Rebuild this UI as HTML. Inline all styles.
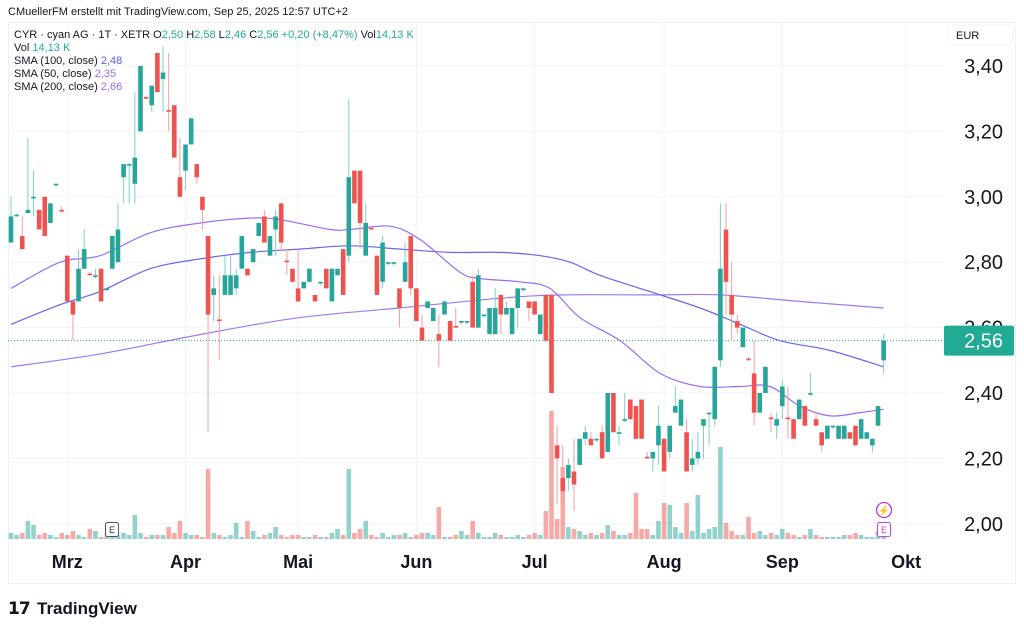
<!DOCTYPE html>
<html><head><meta charset="utf-8">
<style>
html,body{margin:0;padding:0;background:#fff;}
svg{display:block;font-family:"Liberation Sans",sans-serif;}
</style></head>
<body>
<svg id="chart" width="1024" height="631" viewBox="0 0 1024 631" xmlns="http://www.w3.org/2000/svg">
  <text x="8" y="15" font-size="11" fill="#131722">CMuellerFM erstellt mit TradingView.com, Sep 25, 2025 12:57 UTC+2</text>
  <rect x="8.5" y="22.5" width="1007" height="561" fill="none" stroke="#eef0f4"/>
  <g id="grid"></g>
  <g id="vol"></g>
  <g id="sma"></g>
  <g id="candles"></g>
  <g id="yaxis"></g>
  <g id="xaxis"></g>
  <rect x="948" y="25" width="65" height="20" rx="4" fill="#fff" stroke="#eef0f4"/>
  <text x="956" y="39" font-size="11" fill="#131722">EUR</text>
  <g font-size="11">
    <text x="14" y="38" fill="#131722">CYR · cyan AG · 1T · XETR  <tspan>O</tspan><tspan fill="#22ab94">2,50</tspan>  <tspan>H</tspan><tspan fill="#22ab94">2,58</tspan>  <tspan>L</tspan><tspan fill="#22ab94">2,46</tspan>  <tspan>C</tspan><tspan fill="#22ab94">2,56 +0,20 (+8,47%)</tspan>  Vol<tspan fill="#22ab94">14,13 K</tspan></text>
    <text x="14" y="51" fill="#131722">Vol <tspan fill="#22ab94">14,13 K</tspan></text>
    <text x="14" y="64" fill="#131722">SMA (100, close) <tspan fill="#5b5bf0">2,48</tspan></text>
    <text x="14" y="77" fill="#131722">SMA (50, close) <tspan fill="#9a6cf5">2,35</tspan></text>
    <text x="14" y="90" fill="#131722">SMA (200, close) <tspan fill="#9a6cf5">2,66</tspan></text>
  </g>
  <g>
    <rect x="105.5" y="522.5" width="13" height="14" rx="2" fill="#fff" stroke="#555"/>
    <text x="112" y="533" font-size="9" text-anchor="middle" fill="#333">E</text>
  </g>
  <g>
    <circle cx="884" cy="510" r="7.5" fill="#fff" stroke="#b43fd6" stroke-width="1.3"/>
    <text x="884" y="514" font-size="10" text-anchor="middle" fill="#b43fd6">⚡</text>
  </g>
  <g>
    <rect x="877.5" y="522.5" width="13" height="14" rx="2" fill="#fff" stroke="#d63fd6"/>
    <text x="884" y="533" font-size="9" text-anchor="middle" fill="#d63fd6">E</text>
  </g>
  <g>
    <text x="8" y="614" font-size="17" font-weight="bold" fill="#131722" letter-spacing="-1">𝟭𝟳</text>
    <text x="37" y="614" font-size="17" font-weight="bold" fill="#131722">TradingView</text>
  </g>
</svg>
<script>
const opens =[2.86,2.94,2.88,2.95,2.995,2.96,3.00,2.92,3.035,2.96,2.82,2.68,2.68,2.78,2.765,2.755,2.78,2.715,2.78,2.80,3.06,3.095,3.04,3.20,3.305,3.28,3.44,3.36,3.265,3.28,3.06,3.08,3.16,3.10,3.00,2.88,2.70,2.625,2.70,2.70,2.72,2.78,2.78,2.80,2.88,2.94,2.82,2.90,2.98,2.805,2.78,2.72,2.72,2.74,2.70,2.735,2.78,2.68,2.76,2.84,2.82,3.08,3.08,2.82,2.905,2.82,2.74,2.795,2.795,2.72,2.74,2.88,2.72,2.60,2.66,2.62,2.58,2.64,2.62,2.605,2.615,2.615,2.74,2.60,2.635,2.58,2.58,2.70,2.64,2.58,2.66,2.715,2.68,2.68,2.58,2.70,2.70,2.24,2.14,2.14,2.16,2.18,2.26,2.26,2.255,2.28,2.22,2.40,2.275,2.315,2.38,2.36,2.38,2.205,2.20,2.24,2.26,2.22,2.34,2.30,2.28,2.18,2.20,2.30,2.335,2.32,2.50,2.90,2.70,2.62,2.54,2.505,2.46,2.34,2.40,2.325,2.30,2.36,2.325,2.32,2.32,2.36,2.395,2.32,2.28,2.26,2.295,2.26,2.26,2.28,2.30,2.26,2.26,2.24,2.30,2.50];
const highs =[3.00,2.95,2.94,3.18,3.08,2.96,3.00,2.98,3.04,2.97,2.82,2.68,2.84,2.90,2.77,2.78,2.78,2.72,2.88,2.98,3.10,3.10,3.32,3.40,3.31,3.34,3.44,3.46,3.44,3.28,3.18,3.16,3.24,3.10,3.00,2.88,2.76,2.76,2.82,2.82,2.78,2.88,2.78,2.84,2.92,2.96,2.88,2.96,2.98,2.84,2.78,2.84,2.74,2.78,2.70,2.74,2.78,2.78,2.78,2.84,3.30,3.08,3.08,2.98,2.91,2.82,2.88,2.80,2.80,2.72,2.86,2.88,2.72,2.64,2.68,2.66,2.64,2.68,2.62,2.66,2.62,2.62,2.76,2.78,2.64,2.66,2.72,2.70,2.68,2.66,2.72,2.72,2.68,2.68,2.64,2.70,2.70,2.30,2.24,2.20,2.26,2.26,2.30,2.28,2.26,2.30,2.40,2.40,2.30,2.40,2.38,2.36,2.38,2.22,2.22,2.36,2.26,2.30,2.42,2.38,2.32,2.26,2.28,2.32,2.34,2.48,2.98,2.98,2.80,2.64,2.60,2.51,2.56,2.40,2.48,2.34,2.34,2.44,2.42,2.32,2.38,2.36,2.46,2.34,2.28,2.30,2.30,2.30,2.30,2.28,2.30,2.32,2.28,2.26,2.36,2.58];
const lows  =[2.86,2.94,2.84,2.95,2.94,2.90,2.88,2.92,3.03,2.95,2.68,2.56,2.68,2.78,2.76,2.75,2.68,2.71,2.78,2.80,2.98,2.98,2.98,3.20,3.30,3.26,3.32,3.26,3.20,3.12,3.00,3.02,3.16,3.04,2.90,2.28,2.62,2.50,2.70,2.70,2.70,2.78,2.76,2.80,2.88,2.86,2.82,2.82,2.84,2.76,2.74,2.68,2.72,2.74,2.68,2.73,2.72,2.68,2.76,2.70,2.80,2.98,2.84,2.82,2.90,2.70,2.72,2.79,2.79,2.60,2.74,2.70,2.62,2.56,2.66,2.62,2.48,2.64,2.56,2.60,2.61,2.61,2.60,2.60,2.63,2.58,2.58,2.58,2.64,2.58,2.60,2.71,2.62,2.64,2.58,2.56,2.40,2.06,2.06,2.10,2.04,2.18,2.24,2.24,2.25,2.20,2.22,2.28,2.24,2.31,2.32,2.26,2.26,2.20,2.16,2.18,2.16,2.20,2.34,2.30,2.16,2.16,2.18,2.20,2.24,2.30,2.48,2.64,2.56,2.58,2.54,2.50,2.30,2.34,2.40,2.28,2.26,2.32,2.26,2.26,2.32,2.30,2.39,2.30,2.22,2.26,2.29,2.26,2.26,2.26,2.24,2.26,2.26,2.22,2.30,2.46];
const closes=[2.94,2.945,2.84,2.96,3.00,2.90,2.88,2.98,3.04,2.955,2.68,2.64,2.78,2.84,2.76,2.76,2.68,2.72,2.88,2.90,3.10,3.10,3.12,3.40,3.30,3.34,3.32,3.38,3.26,3.12,3.00,3.16,3.24,3.06,2.96,2.64,2.72,2.62,2.76,2.76,2.76,2.88,2.76,2.84,2.92,2.86,2.88,2.94,2.86,2.80,2.74,2.68,2.74,2.78,2.68,2.74,2.72,2.78,2.78,2.70,3.06,2.98,2.92,2.92,2.90,2.70,2.86,2.80,2.80,2.66,2.80,2.72,2.62,2.56,2.68,2.66,2.56,2.68,2.56,2.60,2.62,2.62,2.60,2.76,2.64,2.66,2.66,2.64,2.66,2.66,2.72,2.72,2.66,2.64,2.64,2.56,2.40,2.20,2.10,2.18,2.12,2.26,2.28,2.24,2.26,2.20,2.40,2.28,2.28,2.32,2.32,2.26,2.26,2.20,2.22,2.30,2.16,2.30,2.36,2.38,2.16,2.20,2.22,2.32,2.34,2.48,2.78,2.74,2.64,2.60,2.60,2.50,2.34,2.40,2.48,2.32,2.32,2.42,2.32,2.26,2.38,2.30,2.40,2.30,2.24,2.30,2.30,2.30,2.30,2.26,2.24,2.32,2.28,2.26,2.36,2.56];
const volumes=[3,2,3,9,7,2,3,2,1,3,2,4,2,1,5,4,1,2,1,2,3,2,12,3,1,2,2,2,6,3,9,3,2,2,1,35,3,2,1,2,8,1,9,4,1,2,3,6,2,1,2,2,1,1,2,1,1,3,5,2,35,3,5,9,2,1,3,1,2,2,3,1,2,3,3,2,16,1,1,2,4,2,9,3,1,1,3,2,1,1,2,1,2,3,2,14,64,10,36,6,5,4,2,3,2,3,7,4,2,2,3,23,5,5,2,9,18,17,6,3,18,4,22,3,5,6,46,8,4,2,2,11,3,4,2,3,2,5,3,2,1,2,5,2,1,1,1,1,2,2,3,2,1,1,4,5];
const sma200Idx=[0,16,34,51,69,87,98,114,126,140,155];
const sma200Val=[2.48,2.52,2.58,2.63,2.66,2.69,2.70,2.70,2.70,2.68,2.66];
const sma100Idx=[0,8.7,15.8,24.7,33.6,42.5,51.3,60.2,69.1,78,86.9,94,99.3,104.6,113.5,122.4,129.5,136.6,145.5,155];
const sma100Val=[2.61,2.67,2.71,2.78,2.81,2.83,2.84,2.85,2.84,2.83,2.83,2.82,2.80,2.76,2.71,2.66,2.61,2.56,2.53,2.48];
const sma50Idx=[0,8.7,15.8,24.7,33.6,42.5,47.8,56.7,60.2,67.3,72.6,79.7,83.3,90.4,95.7,101.1,108.2,115.3,122.4,129.5,134.8,140.1,145.5,150.8,155];
const sma50Val=[2.72,2.80,2.82,2.89,2.92,2.935,2.93,2.90,2.90,2.91,2.87,2.77,2.75,2.74,2.72,2.63,2.56,2.46,2.42,2.42,2.42,2.36,2.33,2.34,2.35];
const priceTicks=[3.40,3.20,3.00,2.80,2.60,2.40,2.20,2.00];
const monthLabels=["Mrz","Apr","Mai","Jun","Jul","Aug","Sep","Okt"];
const monthIdx=[10,31,51,72,93,116,137,159];
const lastPrice=2.56;

const NS="http://www.w3.org/2000/svg";
const X0=11, DX=5.63;
const xOf=i=>X0+i*DX;
const yOf=p=>66+(3.40-p)*327;
const VBASE=539, VSCALE=2;
function mk(tag,attrs,parent){const e=document.createElementNS(NS,tag);for(const k in attrs)e.setAttribute(k,attrs[k]);parent.appendChild(e);return e;}
const grid=document.getElementById('grid'),vol=document.getElementById('vol'),sma=document.getElementById('sma'),cg=document.getElementById('candles'),ya=document.getElementById('yaxis'),xa=document.getElementById('xaxis');

priceTicks.forEach(p=>{
  const l=mk('line',{x1:8,x2:944,y1:yOf(p),y2:yOf(p),stroke:'#f0f3fa'},grid);
  
  
  const t=mk('text',{x:1003,y:yOf(p)+7,'font-size':20,'text-anchor':'end',fill:'#131722'},ya);
  t.textContent=p.toFixed(2).replace('.',',');
  
  
});
monthLabels.forEach((m,k)=>{
  const x=xOf(monthIdx[k]);
  if(x<940){const l=mk('line',{x1:x,x2:x,y1:22,y2:540,stroke:'#f0f3fa'},grid);
  
  }
  const t=mk('text',{x:x,y:568,'font-size':18,'font-weight':'bold','text-anchor':'middle',fill:'#131722'},xa);
  t.textContent=m;
  
  
});

volumes.forEach((v,i)=>{
  const up=closes[i]>=opens[i];
  const r=mk('rect',{x:xOf(i)-2.3,y:VBASE-v*VSCALE,width:4.6,height:v*VSCALE,fill:up?'rgba(38,166,154,0.5)':'rgba(239,83,80,0.5)'},vol);
  
  
});

function smaLine(idx,val,color,name){
  const P=idx.map((i,k)=>[xOf(i),yOf(val[k])]);
  let d='M'+P[0][0].toFixed(1)+','+P[0][1].toFixed(1);
  for(let k=0;k<P.length-1;k++){
    const p0=P[k-1]||P[k],p1=P[k],p2=P[k+1],p3=P[k+2]||P[k+1];
    const c1=[p1[0]+(p2[0]-p0[0])/6,p1[1]+(p2[1]-p0[1])/6];
    const c2=[p2[0]-(p3[0]-p1[0])/6,p2[1]-(p3[1]-p1[1])/6];
    d+=' C'+c1[0].toFixed(1)+','+c1[1].toFixed(1)+' '+c2[0].toFixed(1)+','+c2[1].toFixed(1)+' '+p2[0].toFixed(1)+','+p2[1].toFixed(1);
  }
  const pl=mk('path',{d:d,fill:'none',stroke:color,'stroke-width':1.2},sma);
  
  
}
smaLine(sma200Idx,sma200Val,'#9b7bf7','sma-200-line');
smaLine(sma100Idx,sma100Val,'#6666f2','sma-100-line');
smaLine(sma50Idx,sma50Val,'#9a6cf5','sma-50-line');

const pl=mk('line',{x1:8,x2:944,y1:yOf(lastPrice),y2:yOf(lastPrice),stroke:'#22ab94','stroke-dasharray':'1 2','stroke-width':1},cg);



opens.forEach((o,i)=>{
  const c=closes[i],up=c>=o,x=xOf(i);
  const col=up?'#26a69a':'#ef5350',wc=up?'#7fcfc6':'#f5a09e';
  const w=mk('line',{x1:x,x2:x,y1:yOf(highs[i]),y2:yOf(lows[i]),stroke:wc,'stroke-width':1},cg);
  
  
  const top=yOf(Math.max(o,c)),bot=yOf(Math.min(o,c));
  const b=mk('rect',{x:x-2.3,y:top,width:4.6,height:Math.max(1,bot-top),fill:col},cg);
  
  
});

const lb=mk('rect',{x:944,y:yOf(lastPrice)-15,width:70,height:30,rx:2,fill:'#22ab94'},ya);


const lt=mk('text',{x:1003,y:yOf(lastPrice)+7,'font-size':20,'text-anchor':'end',fill:'#fff'},ya);
lt.textContent=lastPrice.toFixed(2).replace('.',',');


</script>
</body></html>
